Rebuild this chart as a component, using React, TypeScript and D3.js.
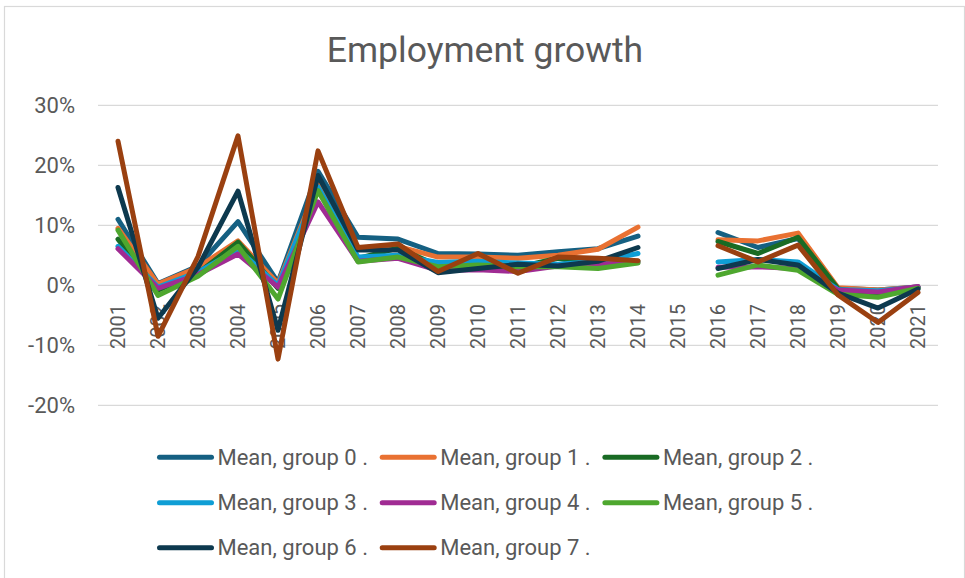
import React from 'react';
import * as d3 from 'd3';

const years = ['2001','2002','2003','2004','2005','2006','2007','2008','2009','2010','2011','2012','2013','2014','2015','2016','2017','2018','2019','2020','2021'];
const yTicks = [-20, -10, 0, 10, 20, 30];

const group0 = [11.0, 0.3, 3.2, 10.6, 0.5, 19.0, 8.0, 7.7, 5.3, 5.2, 5.0, 5.6, 6.1, 8.2, null, 8.8, 6.3, 7.8, -0.5, -0.8, -0.3];
const group1 = [9.5, 0.2, 3.0, 7.4, 0.3, 16.8, 6.0, 6.5, 4.7, 4.7, 4.5, 5.0, 6.0, 9.7, null, 7.6, 7.4, 8.7, -0.4, -0.8, -0.3];
const group2 = [7.7, -0.8, 2.0, 7.2, -0.5, 16.0, 4.5, 6.2, 3.3, 3.2, 3.0, 4.5, 3.3, 4.0, null, 7.3, 5.3, 8.0, -0.6, -1.5, -0.3];
const group3 = [6.5, -0.3, 2.2, 6.0, 0.0, 16.4, 4.7, 5.0, 3.8, 4.0, 3.7, 3.5, 4.0, 5.3, null, 3.9, 4.3, 3.9, -0.7, -0.9, -0.3];
const group4 = [6.1, -0.5, 1.8, 5.2, -0.3, 13.9, 4.0, 4.5, 2.5, 2.6, 2.3, 3.2, 3.5, 3.8, null, 3.0, 3.1, 2.8, -0.8, -1.1, -0.2];
const group5 = [9.2, -1.7, 1.5, 6.5, -2.3, 15.8, 3.9, 4.7, 3.1, 3.4, 3.1, 3.1, 2.8, 3.7, null, 1.7, 3.4, 2.5, -1.5, -2.0, -0.5];
const group6 = [16.3, -5.5, 3.0, 15.7, -7.5, 18.3, 5.9, 5.9, 2.1, 2.8, 3.5, 3.2, 4.0, 6.3, null, 2.8, 4.3, 3.4, -1.3, -3.8, -0.6];
const group7 = [24.0, -8.5, 4.8, 24.9, -12.3, 22.4, 6.3, 6.9, 2.3, 5.3, 2.0, 4.7, 4.5, 4.1, null, 6.6, 3.9, 6.7, -1.6, -6.2, -1.2];

const seriesNames = ['Mean, group 0 .', 'Mean, group 1 .', 'Mean, group 2 .', 'Mean, group 3 .', 'Mean, group 4 .', 'Mean, group 5 .', 'Mean, group 6 .', 'Mean, group 7 .'];
const seriesValues = [group0, group1, group2, group3, group4, group5, group6, group7];
const colors = ['#156082', '#E97132', '#196B24', '#0F9ED5', '#A02B93', '#4EA72E', '#0D394E', '#9A4010'];

const W = 965;
const H = 578;
const FONT = 'Roboto, "Open Sans", sans-serif';
const TXT = '#595959';

export default function App() {
  const x = d3.scalePoint<string>().domain(years).range([118, 918]);
  const y = d3.scaleLinear().domain([-20, 30]).range([405.3, 105.3]);
  const line = d3
    .line<number | null>()
    .defined((d) => d !== null)
    .x((_, i) => x(years[i]) as number)
    .y((d) => y(d as number));

  const legendX0 = 157.5;
  const legendDX = 222.7;
  const legendY = [457.3, 502.7, 547.7];

  return (
    <svg
      width={W}
      height={H}
      style={{ position: 'absolute', left: 0, top: 0, background: '#fff' }}
      fontFamily={FONT}
    >
      <rect x={0} y={0} width={W} height={H} fill="#fff" />
      <rect x={4.5} y={6.5} width={960} height={600} fill="none" stroke="#d9d9d9" strokeWidth={1.2} />
      <text x={485} y={61.5} textAnchor="middle" fontSize={35.5} fill={TXT}>
        Employment growth
      </text>
      {yTicks.map((t) => (
        <g key={t}>
          <line x1={98} x2={938} y1={y(t)} y2={y(t)} stroke="#d9d9d9" strokeWidth={1.3} />
          <text x={75} y={y(t)} textAnchor="end" dominantBaseline="central" fontSize={22} fill={TXT}>
            {t + '%'}
          </text>
        </g>
      ))}
      {years.map((yr) => (
        <text
          key={yr}
          transform={`translate(${x(yr)},${304}) rotate(-90)`}
          textAnchor="end"
          dominantBaseline="central"
          fontSize={20}
          fill={TXT}
        >
          {yr}
        </text>
      ))}
      {seriesValues.map((vals, i) => (
        <path
          key={i}
          d={line(vals) || ''}
          fill="none"
          stroke={colors[i]}
          strokeWidth={5}
          strokeLinejoin="round"
          strokeLinecap="round"
        />
      ))}
      {seriesNames.map((name, i) => {
        const col = i % 3;
        const row = Math.floor(i / 3);
        const lx = legendX0 + col * legendDX;
        const ly = legendY[row];
        return (
          <g key={name}>
            <line x1={lx + 2} x2={lx + 54} y1={ly} y2={ly} stroke={colors[i]} strokeWidth={5} strokeLinecap="round" />
            <text x={lx + 60} y={ly} dominantBaseline="central" fontSize={22} fill={TXT}>
              {name}
            </text>
          </g>
        );
      })}
    </svg>
  );
}
